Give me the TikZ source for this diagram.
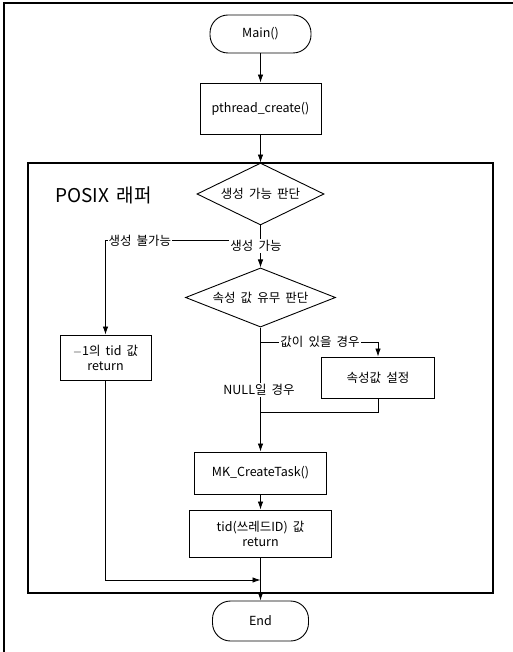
\documentclass[tikz,border=0pt]{standalone}
\usepackage{fontspec}
\setmainfont[WordSpace=1.8]{Noto Sans CJK KR}
\usetikzlibrary{arrows.meta,shapes.geometric}

\begin{document}
\begin{tikzpicture}[x=1pt,y=-1pt,>=Latex]
  \tikzset{
    terminal/.style={draw, line width=0.9pt, rounded corners=18pt, align=center,
      font=\fontsize{12.5}{15}\selectfont},
    procbox/.style={draw, line width=0.9pt, align=center, inner sep=2pt,
      font=\fontsize{12.5}{15}\selectfont},
    decision/.style={draw, diamond, line width=0.9pt, inner sep=0pt, aspect=2,
      font=\fontsize{12.5}{15}\selectfont},
    wrapper/.style={draw, line width=1.1pt},
    flow/.style={->, line width=0.8pt, >={Latex[length=8pt,width=5.5pt]}},
    plain/.style={line width=0.8pt},
    branchlabel/.style={fill=white, inner sep=1pt, font=\fontsize{12.5}{15}\selectfont}
  }
  \useasboundingbox (0,0) rectangle (513,652);

  % page frame (scan shows only top and left edge)
  \draw[line width=1.1pt] (513,3) -- (4,3) -- (4,652);

  % POSIX wrapper region
  \node[wrapper, minimum width=465pt, minimum height=430pt] (posix) at (260.5,378) {};
  \node[font=\fontsize{19}{21}\selectfont, anchor=west, inner sep=0pt] (posixlabel) at (55,195) {POSIX 래퍼};

  \node[terminal, minimum width=101pt, minimum height=38pt] (main) at (260.5,34) {Main()};
  \node[procbox, minimum width=121pt, minimum height=51pt] (pthread) at (260.5,108.5) {pthread\_create()};
  \node[decision, minimum width=127pt, minimum height=62pt] (canmake) at (260.5,194) {생성 가능 판단};
  \node[decision, minimum width=150pt, minimum height=59pt] (hasattr) at (260.5,297.5) {속성 값 유무 판단};
  \node[procbox, minimum width=91pt, minimum height=45pt] (errret) at (105.5,357.5) {$-$1의 tid 값\\return};
  \node[procbox, minimum width=113pt, minimum height=41pt] (setattr) at (378,377.5) {속성값 설정};
  \node[procbox, minimum width=132pt, minimum height=42pt] (mktask) at (260.5,473) {MK\_CreateTask()};
  \node[procbox, minimum width=142pt, minimum height=47pt] (tidret) at (260.5,533.5) {tid(쓰레드ID) 값\\return};
  \node[terminal, minimum width=96pt, minimum height=40pt] (endnode) at (260.5,621) {End};

  \coordinate (split1) at (260.5,240);
  \coordinate (split2) at (260.5,342);
  \coordinate (merge2) at (260.5,412);
  \coordinate (merge1) at (260.5,580);

  \draw[flow] (main) -- (pthread);
  \draw[flow] (pthread) -- (canmake);
  \draw[plain] (canmake.south) -- (split1);
  \draw[flow] (split1) -| (errret.north);
  \draw[flow] (split1) -- (hasattr.north);
  \draw[flow] (hasattr.south) -- (mktask.north);
  \draw[flow] (split2) -| (setattr.north);
  \draw[plain] (setattr.south) |- (merge2);
  \draw[flow] (mktask) -- (tidret);
  \draw[flow] (errret.south) |- (merge1);
  \draw[flow] (tidret) -- (endnode);

  \node[branchlabel, anchor=west] (lblno) at (107.5,241) {생성 불가능};
  \node[branchlabel] (lblyes) at (256,246) {생성 가능};
  \node[branchlabel] (lblval) at (320,342) {값이 있을 경우};
  \node[branchlabel] (lblnull) at (259,390) {NULL일 경우};
\end{tikzpicture}
\end{document}
